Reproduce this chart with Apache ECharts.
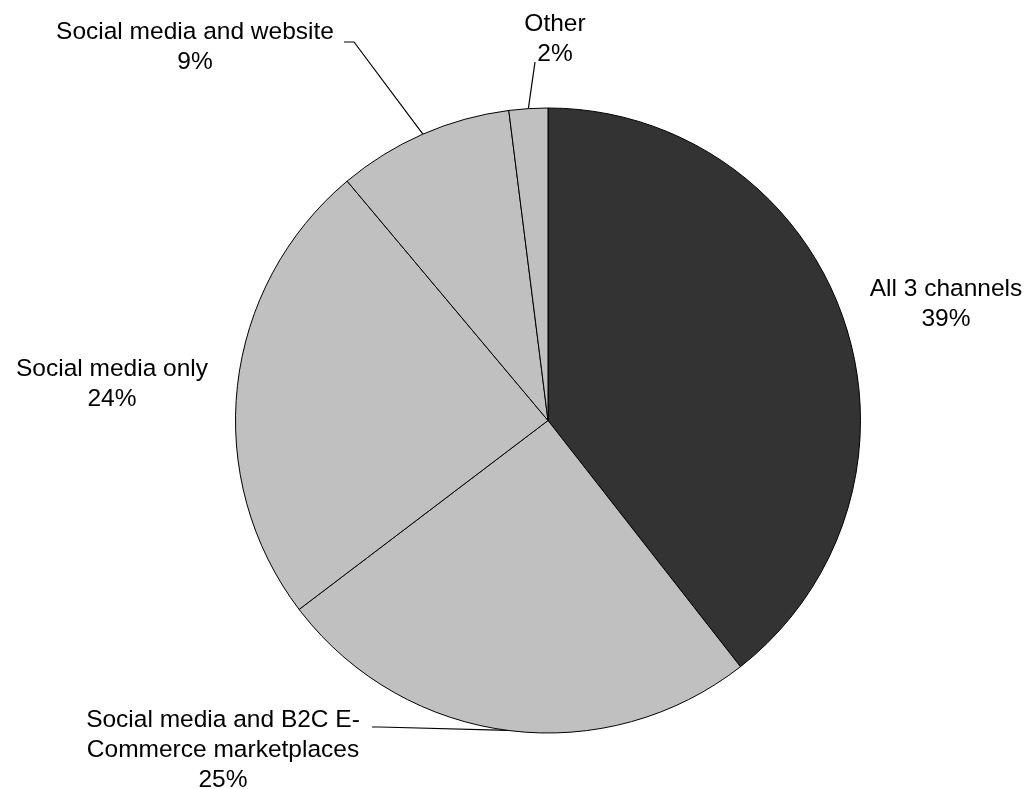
<!DOCTYPE html>
<html><head><meta charset="utf-8">
<script src="https://cdn.jsdelivr.net/npm/echarts@6/dist/echarts.min.js"></script>
<style>html,body{margin:0;padding:0;background:#fff}#chart{width:1027px;height:789px}</style>
</head><body><div id="chart"></div>
<script>
const categories = ['All 3 channels', 'Social media and B2C E-\nCommerce marketplaces', 'Social media only', 'Social media and website', 'Other'];
const shares = [39.4, 25.2, 24.2, 9.1, 2.0];
const sliceColors = ['#333333', '#c0c0c0', '#c0c0c0', '#c0c0c0', '#c0c0c0'];
const showLeader = [false, true, false, true, true];

const total = shares.reduce((a, b) => a + b, 0);
const labelCenters = [[946, 304], [223, 750], [112, 384], [195, 47], [555, 39]];
const leaderTail = [null, [[380, 727], [372, 727]], null, [[354, 42], [344, 42]], [[535, 62], [535, 62]]];

const chart = echarts.init(document.getElementById('chart'), null, {renderer: 'canvas'});
chart.setOption({
  backgroundColor: '#ffffff',
  animation: false,
  series: [{
    type: 'pie',
    center: [548, 420.5],
    radius: 312.5,
    startAngle: 90,
    clockwise: true,
    avoidLabelOverlap: false,
    emphasis: {disabled: true},
    itemStyle: {borderColor: '#000', borderWidth: 1},
    label: {
      show: true,
      position: 'outside',
      color: '#000',
      fontFamily: 'Liberation Sans, Arial, sans-serif',
      fontSize: 24.5,
      lineHeight: 30,
      align: 'center',
      formatter: p => p.name + '\n' + Math.round(p.value / total * 100) + '%'
    },
    labelLine: {show: true, lineStyle: {color: '#000', width: 1.2}, length: 20, length2: 10},
    labelLayout: function (params) {
      const i = params.dataIndex;
      const out = {x: labelCenters[i][0], y: labelCenters[i][1], align: 'center', verticalAlign: 'middle'};
      if (leaderTail[i] && params.labelLinePoints) {
        out.labelLinePoints = [params.labelLinePoints[0], leaderTail[i][0], leaderTail[i][1]];
      }
      return out;
    },
    data: categories.map((name, i) => ({
      name: name,
      value: shares[i],
      itemStyle: {color: sliceColors[i]},
      labelLine: {show: showLeader[i]}
    }))
  }]
});
</script></body></html>
